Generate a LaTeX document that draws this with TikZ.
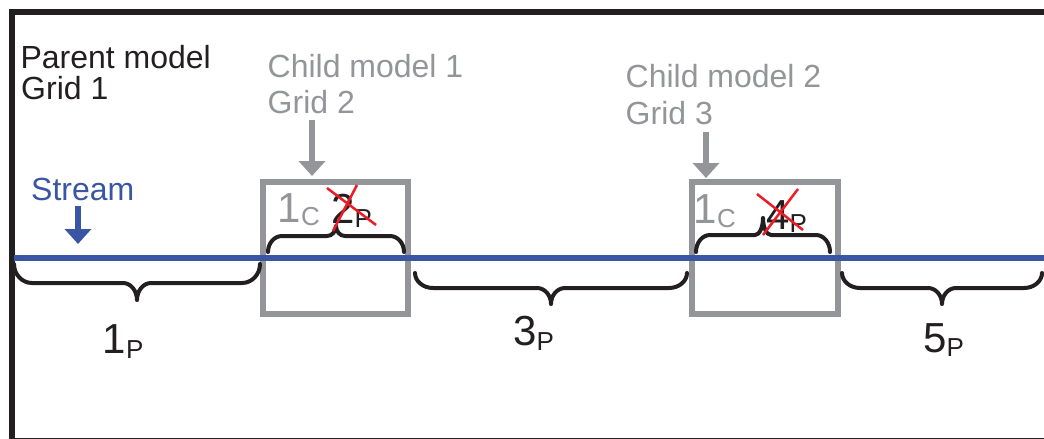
\documentclass[tikz,border=0pt]{standalone}
\usepackage{fontspec}
\setmainfont{Liberation Sans}
\usetikzlibrary{arrows.meta,calc}
\definecolor{streamblue}{HTML}{3A55A4}
\definecolor{boxgray}{HTML}{939598}
\definecolor{inkblack}{HTML}{231F20}
\definecolor{xred}{HTML}{ED1C24}
\newcommand\seglbl[3]{#1\raisebox{-#3}{\fontsize{26}{26}\selectfont #2}}
% #1 start, #2 end, #3 level offset, #4 tip offset, #5 end radius, #6 middle radius (canvas signs)
\newcommand\curlybr[6]{%
  \draw[bracestroke] let \p1=(#1), \p2=(#2), \n1={(\x1+\x2)/2} in
    (\p1) .. controls (\x1,\y1+0.55*#3) and (\x1+0.45*#5,\y1+#3) .. (\x1+#5,\y1+#3)
          -- (\n1-#6,\y1+#3)
          .. controls (\n1-0.45*#6,\y1+#3) and (\n1,\y1+#3+0.45*#4-0.45*#3) .. (\n1,\y1+#4)
    (\p2) .. controls (\x2,\y2+0.55*#3) and (\x2-0.45*#5,\y2+#3) .. (\x2-#5,\y2+#3)
          -- (\n1+#6,\y2+#3)
          .. controls (\n1+0.45*#6,\y2+#3) and (\n1,\y2+#3+0.45*#4-0.45*#3) .. (\n1,\y2+#4);}
\tikzset{
  txt/.style={anchor=base west, inner sep=0pt, font=\fontsize{32}{32}\selectfont},
  numlbl/.style={anchor=base west, inner sep=0pt, font=\fontsize{42}{42}\selectfont},
  gridbox/.style={draw=boxgray, line width=6pt},
  bracestroke/.style={draw=inkblack, line width=4pt, line cap=round, line join=round},
  pointer/.style={line width=6pt, -{Triangle[width=26pt,length=15pt]}},
  cross/.style={draw=xred, line width=2.5pt}
}
\begin{document}
\begin{tikzpicture}[x=1pt,y=-1pt]
\useasboundingbox (0,0) rectangle (1044,439);
% frame
\draw[inkblack, line width=6pt] (11.5,12) rectangle (1070,441);
% grid boxes
\node[gridbox, minimum width=145pt, minimum height=132pt, inner sep=0pt] (box1) at (335.5,248) {};
\node[gridbox, minimum width=146pt, minimum height=132pt, inner sep=0pt] (box2) at (765,248) {};
% stream
\coordinate (sL) at (14,258);
\coordinate (sR) at (1050,258);
\draw[streamblue, line width=6pt] (sL) -- (sR);
% braces below
\coordinate (b1a) at (14,264); \coordinate (b1b) at (260,264);
\coordinate (b3a) at (415,273); \coordinate (b3b) at (687,273);
\coordinate (b5a) at (842,273); \coordinate (b5b) at (1042,273);
\curlybr{b1a}{b1b}{-19pt}{-36pt}{18pt}{14pt}
\curlybr{b3a}{b3b}{-15pt}{-31pt}{18pt}{14pt}
\curlybr{b5a}{b5b}{-15pt}{-31pt}{18pt}{14pt}
% braces above
\coordinate (u1a) at (268,252); \coordinate (u1b) at (404,252);
\coordinate (u2a) at (696,252); \coordinate (u2b) at (830,252);
\curlybr{u1a}{u1b}{16pt}{26pt}{14pt}{9pt}
\curlybr{u2a}{u2b}{17pt}{34pt}{14pt}{8pt}
% texts
\node[txt, text=inkblack] (parent1) at (20.3,68) {Parent model};
\node[txt, text=inkblack] (parent2) at (21,99) {Grid 1};
\node[txt, text=boxgray] (child1a) at (267.5,77) {Child model 1};
\node[txt, text=boxgray] (child1b) at (267.5,113) {Grid 2};
\node[txt, text=boxgray] (child2a) at (625.5,87) {Child model 2};
\node[txt, text=boxgray] (child2b) at (625.5,124) {Grid 3};
\node[txt, text=streamblue] (stream) at (31,200) {Stream};
% pointers
\coordinate (pS1) at (78,206); \coordinate (pS2) at (78,244);
\coordinate (pA1) at (312,120); \coordinate (pA2) at (312,176);
\coordinate (pB1) at (706,132); \coordinate (pB2) at (706,178);
\draw[pointer, streamblue] (pS1) -- (pS2);
\draw[pointer, boxgray] (pA1) -- (pA2);
\draw[pointer, boxgray] (pB1) -- (pB2);
% segment labels
\node[numlbl, text=inkblack] (l1p) at (102.5,353) {\seglbl{1}{P}{5pt}};
\node[numlbl, text=inkblack] (l3p) at (513,345) {\seglbl{3}{P}{5pt}};
\node[numlbl, text=inkblack] (l5p) at (923,352) {\seglbl{5}{P}{4pt}};
\node[numlbl, text=boxgray] (l1c) at (277.5,222) {\seglbl{1}{C}{3pt}};
\node[numlbl, text=inkblack] (l2p) at (331,223) {\seglbl{2}{P}{4pt}};
\node[numlbl, text=boxgray] (l1cb) at (693.5,223) {\seglbl{1}{C}{4pt}};
\node[numlbl, text=inkblack] (l4p) at (766,229) {\seglbl{4}{P}{3pt}};
% crosses
\draw[cross] (327,188) -- (376,225);
\draw[cross] (357,185) -- (333,231);
\draw[cross] (757,194) -- (803,230);
\draw[cross] (798,189) -- (763,235);
\end{tikzpicture}
\end{document}
